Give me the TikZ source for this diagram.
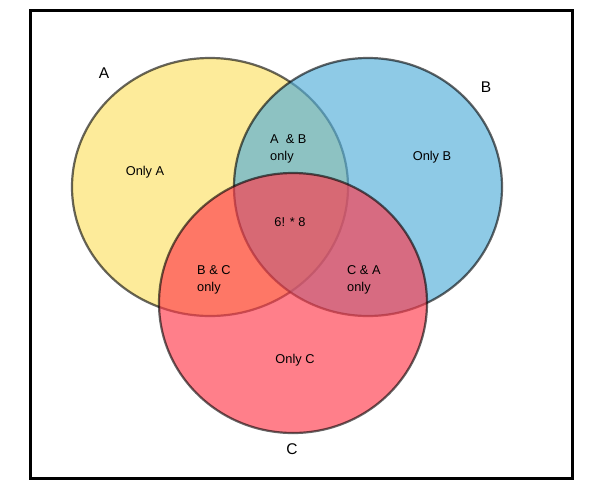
\documentclass[tikz,border=0pt]{standalone}
\usepackage{fontspec}
\setmainfont{Liberation Sans}
\usetikzlibrary{shapes.geometric}
\definecolor{vyellow}{RGB}{252,224,100}
\definecolor{vblue}{RGB}{81,173,217}
\definecolor{vred}{RGB}{255,58,75}
\tikzset{
  setc/.style={ellipse,draw=black,draw opacity=0.6,line width=2.2pt,fill opacity=0.65,inner sep=0pt},
  lbl/.style={font=\fontsize{12.8}{17}\selectfont,align=left,inner sep=0pt},
  setname/.style={font=\fontsize{15.5}{17}\selectfont,inner sep=0pt},
}
\begin{document}
\begin{tikzpicture}[x=1pt,y=-1pt]
  \useasboundingbox (0,0) rectangle (596,493);
  \node[draw=black,line width=3pt,minimum width=542pt,minimum height=468pt,inner sep=0pt] (frame) at (301,244) {};
  % the three sets
  \node[setc,fill=vyellow,minimum width=276pt,minimum height=258pt] (circA) at (210,187) {};
  \node[setc,fill=vblue,minimum width=268pt,minimum height=258pt] (circB) at (368,187) {};
  \node[setc,fill=vred,minimum width=268pt,minimum height=260pt] (circC) at (293,303) {};
  % set names
  \node[setname] (nameA) at (104,73) {A};
  \node[setname] (nameB) at (486,87) {B};
  \node[setname] (nameC) at (292,449) {C};
  % regions
  \node[lbl] (onlyA) at (145,172) {Only A};
  \node[lbl] (onlyB) at (432,157) {Only B};
  \node[lbl] (onlyC) at (295,360) {Only C};
  \node[lbl,anchor=west] (ab) at (270,148.5) {A \ \& B\\only};
  \node[lbl,anchor=west] (bc) at (197,279.5) {B \& C\\only};
  \node[lbl,anchor=west] (ca) at (347,279.5) {C \& A\\only};
  \node[lbl] (abc) at (290,222) {6! * 8};
\end{tikzpicture}
\end{document}
